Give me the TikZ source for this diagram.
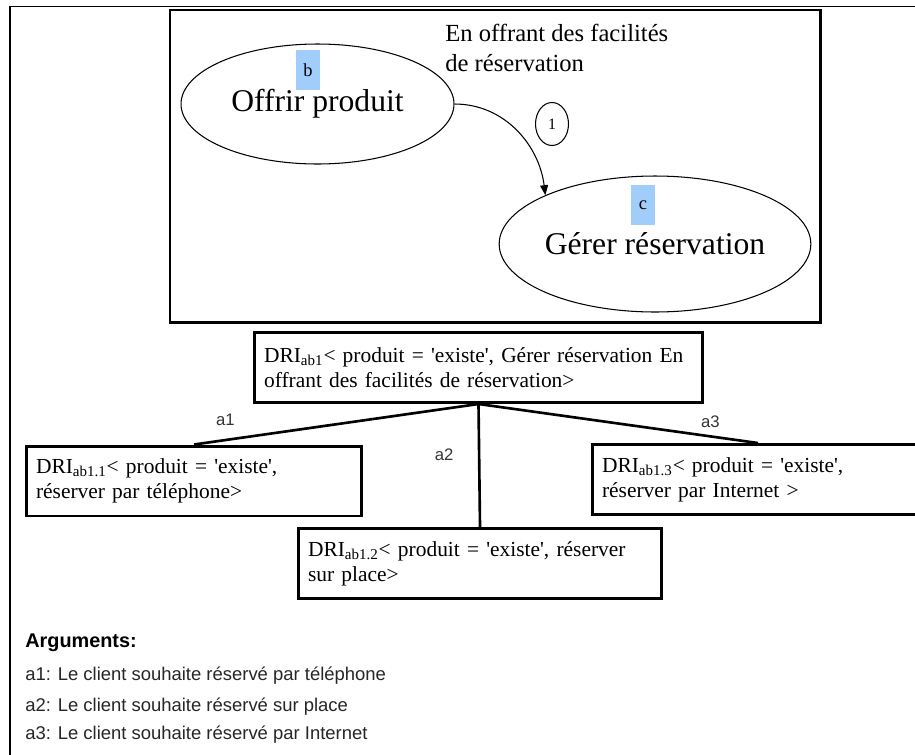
\documentclass[tikz,border=0pt]{standalone}
\usepackage{fontspec}
\setmainfont{Liberation Serif}
\newfontfamily\argfont{Liberation Sans}
\usetikzlibrary{positioning,arrows.meta,shapes.geometric}
\definecolor{tagblue}{RGB}{160,205,250}
\newcommand{\dri}[1]{DRI\textsubscript{#1}}
\newcommand{\qt}{\textquotesingle}

\begin{document}
\begin{tikzpicture}[
  x=0.02cm, y=-0.02cm,
  font=\fontsize{12.2}{14.2}\selectfont,
  frame/.style={draw, line width=1.7pt},
  task/.style={draw, ellipse, inner sep=0pt, line width=0.6pt, font=\fontsize{18}{20}\selectfont},
  tag/.style={fill=tagblue, minimum width=0.48cm, minimum height=0.8cm, inner sep=0pt,
              font=\fontsize{10.5}{12}\selectfont},
  dri/.style={draw, line width=1.7pt, align=left, inner xsep=0.2cm, minimum height=1.4cm},
  arr/.style={-{Triangle[length=2mm, width=1.6mm]}, line width=0.6pt},
  link/.style={line width=1.5pt},
  lab/.style={font=\argfont\fontsize{9.5}{11}\selectfont, text=black!80, inner sep=0pt},
  arg/.style={anchor=west, inner sep=0pt, font=\argfont\fontsize{10.5}{12}\selectfont, text=black!85}
]
\path[use as bounding box, clip] (0,0) rectangle (915,754);
\draw[line width=1pt] (10,6.5) rectangle (930,770);
% Top: goal graph
\draw[frame] (170,10) rectangle (820,322);
\node[task, minimum width=5.46cm, minimum height=2.4cm] (offrir) at (317.5,104) {Offrir produit};
\node[tag] (b) at (308,70) {b};
\node[task, minimum width=6.2cm, minimum height=2.72cm] (gerer) at (655,244) {Gérer réservation};
\node[tag] (c) at (643,205) {c};
\node[draw, ellipse, line width=0.6pt, minimum width=0.66cm, minimum height=0.86cm, inner sep=0pt,
      font=\fontsize{9}{10}\selectfont] (one) at (552,124) {1};
\node[anchor=north west, align=left, inner sep=0pt, font=\fontsize{14}{17}\selectfont] (goal) at (445,24)
  {En offrant des facilités\\de réservation};
\draw[arr] (offrir.east) to[out=0, in=97] (gerer.156);
% Middle: refinement tree
\node[dri, text width=8.58cm] (drio) at (478.5,367.5)
  {\dri{ab1}< produit = \qt existe\qt, Gérer réservation En\\offrant des facilités de réservation>};
\node[dri, text width=6.32cm] (dria) at (194,481) {\dri{ab1.1}< produit = \qt existe\qt,\\réserver par téléphone>};
\node[dri, text width=6.88cm] (drib) at (480,563.5) {\dri{ab1.2}< produit = \qt existe\qt, réserver\\sur place>};
\node[dri, text width=6.24cm] (dric) at (758,479.5) {\dri{ab1.3}< produit = \qt existe\qt,\\réserver par Internet >};
\draw[link] (drio.south) -- node[lab, pos=0.89, yshift=0.4cm] {a1} (dria.north);
\draw[link] (drio.south) -- node[lab, pos=0.41, xshift=-0.7cm] {a2} (drib.north);
\draw[link] (drio.south) -- node[lab, pos=0.83, yshift=0.3cm] {a3} (dric.north);
% Bottom: arguments
\node[arg, font=\argfont\bfseries\fontsize{11.3}{13}\selectfont, text=black] (head) at (25,643) {Arguments:};
\node[arg] (arg1) at (25,676) {a1: Le client souhaite réservé par téléphone};
\node[arg] (arg2) at (25,707) {a2: Le client souhaite réservé sur place};
\node[arg] (arg3) at (25,735) {a3: Le client souhaite réservé par Internet};
\end{tikzpicture}
\end{document}
